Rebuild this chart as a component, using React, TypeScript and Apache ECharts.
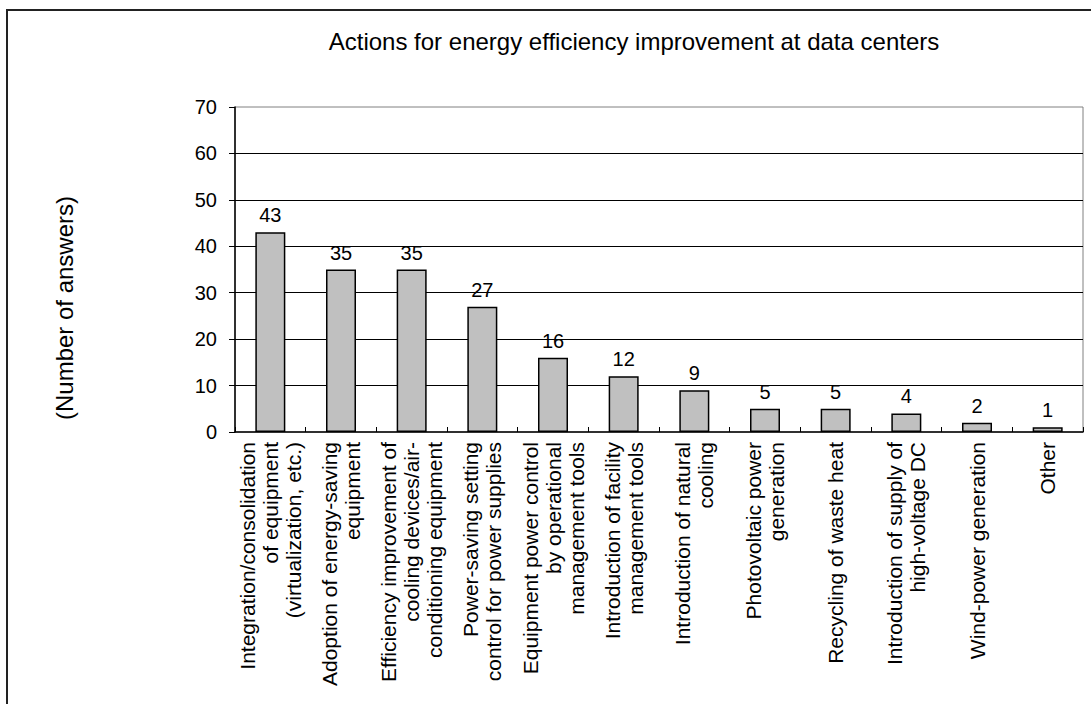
import React, { useEffect, useRef } from "react";
import * as echarts from "echarts";

const titleText = "Actions for energy efficiency improvement at data centers";
const yAxisName = "(Number of answers)";
const categories = [
  "Integration/consolidation\nof equipment\n(virtualization, etc.)",
  "Adoption of energy-saving\nequipment",
  "Efficiency improvement of\ncooling devices/air-\nconditioning equipment",
  "Power-saving setting\ncontrol for power supplies",
  "Equipment power control\nby operational\nmanagement tools",
  "Introduction of facility\nmanagement tools",
  "Introduction of natural\ncooling",
  "Photovoltaic power\ngeneration",
  "Recycling of waste heat",
  "Introduction of supply of\nhigh-voltage DC",
  "Wind-power generation",
  "Other",
];
const answers = [43, 35, 35, 27, 16, 12, 9, 5, 5, 4, 2, 1];
const yMin = 0;
const yMax = 70;
const yInterval = 10;

const FONT = "'Liberation Sans', Arial, Helvetica, sans-serif";

export default function App() {
  const ref = useRef<HTMLDivElement>(null);
  useEffect(() => {
    if (!ref.current) return;
    const chart = echarts.init(ref.current, null, { renderer: "svg" });
    chart.setOption({
      animation: false,
      backgroundColor: "#ffffff",
      textStyle: { fontFamily: FONT },
      grid: {
        left: 235,
        right: 8,
        top: 107,
        bottom: 272,
        show: true,
        borderColor: "#808080",
        borderWidth: 1,
        backgroundColor: "transparent",
      },
      graphic: [
        {
          type: "rect",
          shape: { x: 7, y: 10, width: 1200, height: 900 },
          style: { fill: "none", stroke: "#222222", lineWidth: 2 },
          silent: true,
        },
        {
          type: "text",
          x: 634,
          y: 41,
          style: {
            text: titleText,
            font: `24px ${FONT}`,
            fill: "#000000",
            textAlign: "center",
            textVerticalAlign: "middle",
          },
        },
        {
          type: "text",
          x: 64,
          y: 308,
          rotation: Math.PI / 2,
          style: {
            text: yAxisName,
            font: `24px ${FONT}`,
            fill: "#000000",
            textAlign: "center",
            textVerticalAlign: "middle",
          },
        },
      ],
      xAxis: {
        type: "category",
        data: categories,
        axisLine: { show: true, lineStyle: { color: "#000000", width: 1.5 } },
        axisTick: { show: true, inside: true, length: 5, alignWithLabel: false, lineStyle: { color: "#000000" } },
        axisLabel: {
          interval: 0,
          rotate: 90,
          fontSize: 21,
          lineHeight: 23,
          color: "#000000",
          margin: 10,
          fontFamily: FONT,
        },
        splitLine: { show: false },
      },
      yAxis: {
        type: "value",
        min: yMin,
        max: yMax,
        interval: yInterval,
        axisLine: { show: true, lineStyle: { color: "#000000", width: 1.5 } },
        axisTick: { show: true, inside: false, length: 6, lineStyle: { color: "#000000" } },
        axisLabel: { fontSize: 20, color: "#000000", margin: 18, fontFamily: FONT },
        splitLine: {
          show: true,
          showMinLine: false,
          showMaxLine: false,
          lineStyle: { color: "#000000", width: 1 },
        },
      },
      series: [
        {
          type: "bar",
          data: answers,
          barWidth: 30,
          itemStyle: { color: "#c0c0c0", borderColor: "#000000", borderWidth: 1.5 },
          label: {
            show: true,
            position: "top",
            distance: 7,
            fontSize: 20,
            color: "#000000",
            fontFamily: FONT,
          },
        },
      ],
    });
    return () => chart.dispose();
  }, []);
  return (
    <div
      ref={ref}
      style={{ position: "fixed", left: 0, top: 0, width: 1091, height: 704, background: "#fff" }}
    />
  );
}
